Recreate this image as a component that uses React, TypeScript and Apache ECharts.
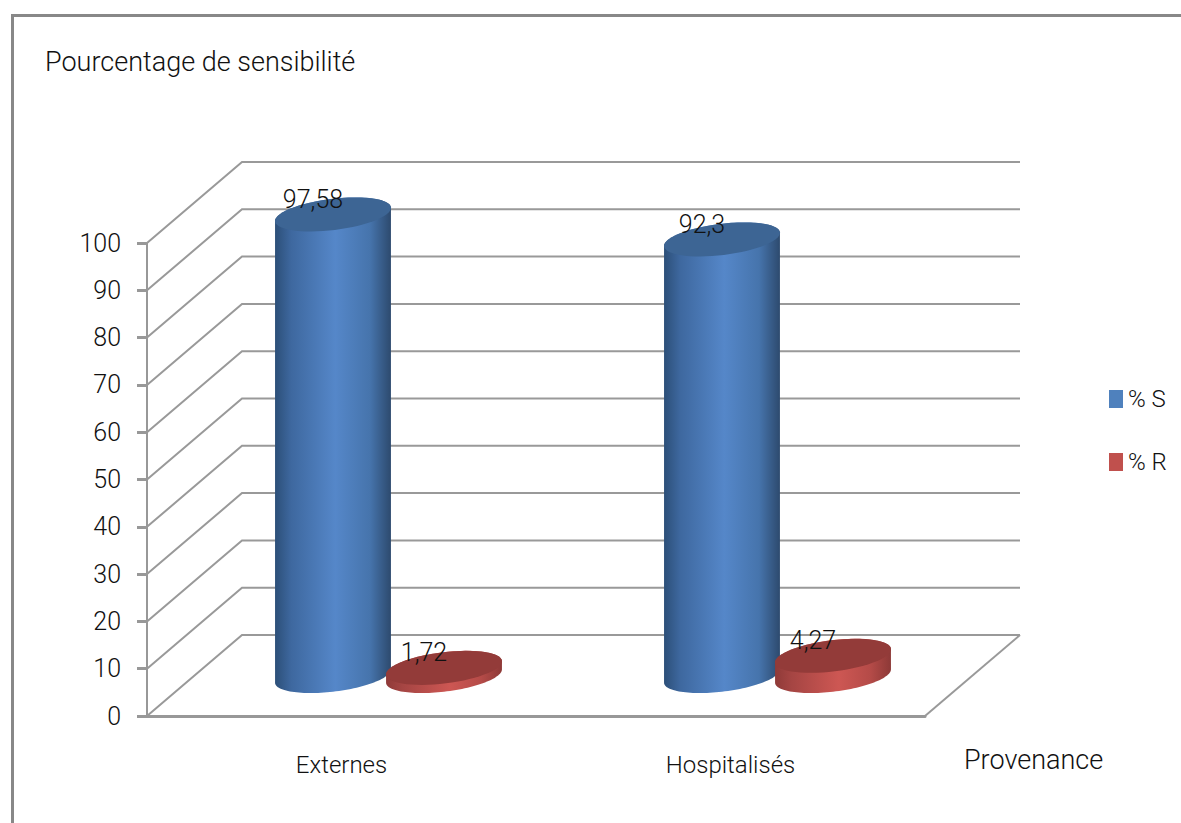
import React, { useEffect, useRef } from "react";
import * as echarts from "echarts";

const categories = ["Externes", "Hospitalisés"];
const sensibleValues = [97.58, 92.3];
const resistantValues = [1.72, 4.27];
const gridTicks = [0, 10, 20, 30, 40, 50, 60, 70, 80, 90, 100];

const FONT = "Roboto";
const AXIS_GRAY = "#989898";
// Perspective shift of the chart's back wall, and of the cylinders standing mid-floor.
const WALL_DX = 95;
const WALL_DY = -81;
const MID_DX = 47;
const MID_DY = -40;
const TILT = (-7 * Math.PI) / 180;
const RX_RATIO = 0.15;
const RY = 15.6;
const GROUP_OFFSET_RATIO = 0.1427;

function ellipsePoint(cx: number, cy: number, a: number, t: number): number[] {
  const ct = Math.cos(t);
  const st = Math.sin(t);
  return [
    cx + a * ct * Math.cos(TILT) - RY * st * Math.sin(TILT),
    cy + a * ct * Math.sin(TILT) + RY * st * Math.cos(TILT),
  ];
}

function arcPoints(cx: number, cy: number, a: number, from: number, to: number): number[][] {
  const steps = 60;
  const pts: number[][] = [];
  for (let i = 0; i <= steps; i++) {
    pts.push(ellipsePoint(cx, cy, a, from + ((to - from) * i) / steps));
  }
  return pts;
}

function bodyGradient(stops: [number, string][]) {
  return new echarts.graphic.LinearGradient(
    0, 0, 1, 0,
    stops.map(([offset, color]) => ({ offset, color }))
  );
}

const blueStops: [number, string][] = [
  [0, "#2c4f78"], [0.14, "#3e689f"], [0.52, "#5587c9"], [0.82, "#4674ac"], [1, "#2d4a6e"],
];
const redStops: [number, string][] = [
  [0, "#8f3a38"], [0.14, "#a54543"], [0.55, "#cd5753"], [0.82, "#b54b48"], [1, "#8d3937"],
];

function cylinderSeries(name: string, values: number[], side: number, legendColor: string, topColor: string, stops: [number, string][]) {
  return {
    name,
    type: "custom",
    z: 3,
    clip: false,
    itemStyle: { color: legendColor },
    encode: { x: 0, y: 1 },
    data: values.map((v, i) => [i, v]),
    renderItem: (_params: any, api: any) => {
      const value = api.value(1);
      const band = api.size([1, 0])[0];
      const top = api.coord([api.value(0), value]);
      const base = api.coord([api.value(0), 0]);
      const cx = top[0] + MID_DX + side * band * GROUP_OFFSET_RATIO;
      const topY = top[1] + MID_DY;
      const baseY = base[1] + MID_DY;
      const a = band * RX_RATIO;
      const t0 = Math.atan(-(RY / a) * Math.tan(TILT));
      const outline = [
        ...arcPoints(cx, baseY, a, t0 + Math.PI, t0),
        ...arcPoints(cx, topY, a, t0, t0 - Math.PI),
      ];
      return {
        type: "group",
        children: [
          { type: "polygon", shape: { points: outline }, style: { fill: bodyGradient(stops) } },
          {
            type: "polygon",
            shape: { points: arcPoints(cx, topY, a, 0, Math.PI * 2) },
            style: { fill: topColor },
          },
          {
            type: "text",
            x: cx - 20,
            y: topY - 15,
            style: {
              text: String(value).replace(".", ","),
              fill: "#111",
              font: `300 25px ${FONT}`,
              align: "center",
              verticalAlign: "middle",
            },
          },
        ],
      };
    },
  };
}

export default function App() {
  const ref = useRef<HTMLDivElement>(null);

  useEffect(() => {
    if (!ref.current) return;
    const chart = echarts.init(ref.current, null, { renderer: "svg" });
    chart.setOption({
      animation: false,
      backgroundColor: "#ffffff",
      title: {
        text: "Pourcentage de sensibilité",
        left: 40,
        top: 43,
        textStyle: { fontFamily: FONT, fontWeight: 300, fontSize: 27, color: "#111" },
      },
      legend: {
        data: ["% S", "% R"],
        orient: "vertical",
        left: 1104,
        top: 382,
        itemWidth: 14,
        itemHeight: 18,
        itemGap: 39,
        icon: "rect",
        textStyle: { fontFamily: FONT, fontWeight: 300, fontSize: 24, color: "#111" },
      },
      grid: { left: 147, top: 243, width: 778, height: 473 },
      xAxis: {
        type: "category",
        data: categories,
        name: "Provenance",
        nameLocation: "end",
        nameGap: 39,
        nameTextStyle: {
          fontFamily: FONT, fontWeight: 300, fontSize: 27, color: "#111",
          align: "left", verticalAlign: "top", padding: [30, 0, 0, 0],
        },
        axisLine: { lineStyle: { color: AXIS_GRAY, width: 3 } },
        axisTick: { length: 10, lineStyle: { color: AXIS_GRAY, width: 2 } },
        axisLabel: { margin: 37, fontFamily: FONT, fontWeight: 300, fontSize: 24, color: "#111" },
      },
      yAxis: {
        type: "value",
        min: 0,
        max: 100,
        interval: 10,
        splitLine: { show: false },
        axisLine: { show: true, lineStyle: { color: AXIS_GRAY, width: 2 } },
        axisTick: { show: true, length: 10, lineStyle: { color: AXIS_GRAY, width: 3 } },
        axisLabel: {
          margin: 26, fontFamily: FONT, fontWeight: 300, fontSize: 25, color: "#111",
          verticalAlign: "middle", padding: [10, 0, 0, 0],
        },
      },
      graphic: [
        {
          type: "polyline",
          shape: { points: [[12.5, 823], [12.5, 15.5], [1181, 15.5]] },
          style: { stroke: "#888888", lineWidth: 3, fill: "none" },
        },
      ],
      series: [
        {
          // Side wall diagonals and back wall rules, plus the right edge of the floor.
          type: "custom",
          silent: true,
          z: 1,
          clip: false,
          encode: { y: 0 },
          data: gridTicks.map((t) => [t]),
          renderItem: (params: any, api: any) => {
            const sys = params.coordSys;
            const tick = api.value(0);
            const y = api.coord([0, tick])[1];
            const left = sys.x;
            const right = sys.x + sys.width;
            const lineStyle = { stroke: "#999999", lineWidth: 2, fill: "none" };
            const children: any[] = [
              {
                type: "polyline",
                shape: { points: [[left, y], [left + WALL_DX, y + WALL_DY], [right + WALL_DX, y + WALL_DY]] },
                style: lineStyle,
              },
            ];
            if (tick === 0) {
              children.push({
                type: "line",
                shape: { x1: right, y1: y, x2: right + WALL_DX, y2: y + WALL_DY },
                style: lineStyle,
              });
            }
            return { type: "group", children };
          },
        },
        cylinderSeries("% S", sensibleValues, -1, "#4f81bd", "#3d6594", blueStops),
        cylinderSeries("% R", resistantValues, 1, "#c0504d", "#933b39", redStops),
      ],
    });
    return () => chart.dispose();
  }, []);

  return <div ref={ref} style={{ position: "absolute", left: 0, top: 0, width: 1181, height: 823 }} />;
}
